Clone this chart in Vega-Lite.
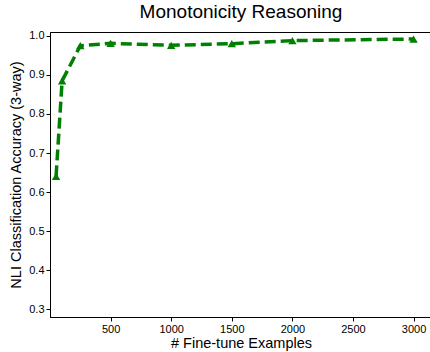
{
  "$schema": "https://vega.github.io/schema/vega-lite/v6.json",
  "width": 382,
  "height": 285,
  "autosize": {"type": "none"},
  "padding": {"left": 50, "top": 32, "right": 0, "bottom": 35},
  "title": {"text": "Monotonicity Reasoning", "font": "Liberation Sans", "fontSize": 19, "fontWeight": "normal", "color": "black", "offset": 8, "anchor": "middle"},
  "config": {
    "view": {"stroke": "black", "strokeWidth": 1},
    "axis": {"labelFont": "Liberation Sans", "titleFont": "Liberation Sans", "labelFontSize": 11, "titleFontSize": 14.5, "titleFontWeight": "normal", "labelColor": "black", "titleColor": "black", "domainColor": "black", "tickColor": "black", "tickSize": 4, "grid": false}
  },
  "data": {"values": [
    {"n": 50, "acc": 0.64},
    {"n": 100, "acc": 0.885},
    {"n": 250, "acc": 0.975},
    {"n": 500, "acc": 0.981},
    {"n": 1000, "acc": 0.976},
    {"n": 1500, "acc": 0.98},
    {"n": 2000, "acc": 0.988},
    {"n": 3000, "acc": 0.992}
  ]},
  "mark": {"type": "line", "color": "#008000", "strokeWidth": 3.5, "strokeDash": [11, 5], "point": {"shape": "triangle-up", "size": 70, "color": "#008000", "filled": true, "opacity": 1}},
  "encoding": {
    "x": {"field": "n", "type": "quantitative", "scale": {"domain": [0, 3152], "nice": false, "zero": false}, "axis": {"values": [500, 1000, 1500, 2000, 2500, 3000], "format": "d", "title": "# Fine-tune Examples", "titlePadding": 2}},
    "y": {"field": "acc", "type": "quantitative", "scale": {"domain": [0.28, 1.01], "nice": false, "zero": false}, "axis": {"values": [0.3, 0.4, 0.5, 0.6, 0.7, 0.8, 0.9, 1.0], "format": ".1f", "title": "NLI Classification Accuracy (3-way)", "titlePadding": 5}}
  }
}
